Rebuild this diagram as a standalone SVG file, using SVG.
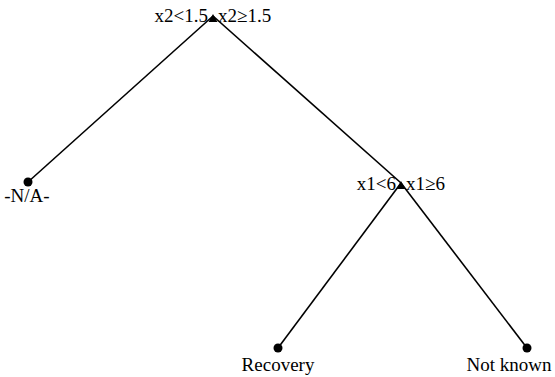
<svg xmlns="http://www.w3.org/2000/svg" width="555" height="377" viewBox="0 0 555 377">
<style>
.e{stroke:#000;stroke-width:1.6;fill:none}
.t{font-family:"Liberation Serif",serif;font-size:19px;fill:#000}
.m{text-anchor:middle}
.r{text-anchor:end}
</style>
<rect width="555" height="377" fill="#fff"/>
<g id="connectors">
<line class="e" x1="213" y1="16" x2="28" y2="182"/>
<line class="e" x1="213" y1="16" x2="401" y2="183"/>
<line class="e" x1="401" y1="183" x2="278" y2="348"/>
<line class="e" x1="401" y1="183" x2="527" y2="348"/>
</g>
<g id="root">
<polygon points="213,14 208.5,22 217.5,22" fill="#000"/>
<text class="t r" x="208" y="22">x2&lt;1.5</text>
<text class="t" x="218" y="22">x2≥1.5</text>
</g>
<g id="n_x1">
<polygon points="401,181 396.5,189 405.5,189" fill="#000"/>
<text class="t r" x="396" y="190">x1&lt;6</text>
<text class="t" x="406" y="190">x1≥6</text>
</g>
<g id="leaf_na">
<circle cx="28" cy="182" r="4.5" fill="#000"/>
<text class="t m" x="27" y="202">-N/A-</text>
</g>
<g id="leaf_recovery">
<circle cx="278" cy="348" r="4.5" fill="#000"/>
<text class="t m" x="278" y="371">Recovery</text>
</g>
<g id="leaf_notknown">
<circle cx="527" cy="348" r="4.5" fill="#000"/>
<text class="t m" x="509" y="371">Not known</text>
</g>
</svg>
